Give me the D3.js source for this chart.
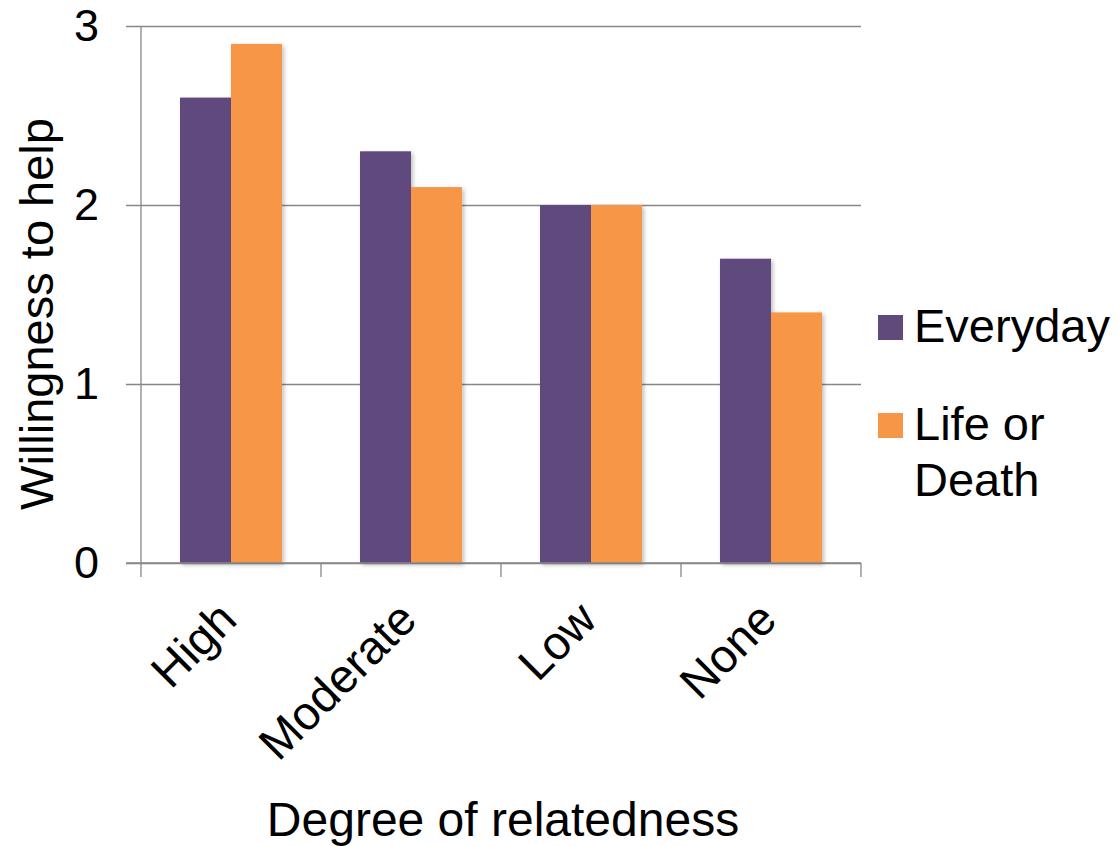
<!DOCTYPE html>
<html>
<head>
<meta charset="utf-8">
<script src="https://cdn.jsdelivr.net/npm/d3@7"></script>
<style>
  html, body { margin: 0; padding: 0; background: #fff; }
  svg { display: block; font-family: "Liberation Sans", Arial, sans-serif; }
</style>
</head>
<body>
<svg id="chart" width="1118" height="846"></svg>
<script>
// Willingness to help by degree of relatedness, two scenarios
const categories = ["High", "Moderate", "Low", "None"];
const seriesNames = ["Everyday", "Life or Death"];
const everyday = [2.6, 2.3, 2.0, 1.7];
const lifeOrDeath = [2.9, 2.1, 2.0, 1.4];
const yTicks = [0, 1, 2, 3];
const colors = ["#604A7B", "#F79646"];

const svg = d3.select("#chart");
const plot = { left: 141, right: 861, top: 26, bottom: 563 };
const gridColor = "#878787";

// drop shadow for the bars
const defs = svg.append("defs");
const f = defs.append("filter").attr("id", "shadow")
  .attr("x", "-20%").attr("y", "-20%").attr("width", "140%").attr("height", "140%");
f.append("feDropShadow").attr("dx", 2).attr("dy", 2).attr("stdDeviation", 2)
  .attr("flood-color", "#000").attr("flood-opacity", 0.25);

const y = d3.scaleLinear().domain([0, 3]).range([plot.bottom, plot.top]);
const x0 = d3.scaleBand().domain(categories)
  .range([plot.left, plot.right])
  .paddingInner(0.4333).paddingOuter(0.21667);
const x1 = d3.scaleBand().domain(seriesNames).range([0, x0.bandwidth()]);

// horizontal gridlines, extended left past the axis as tick marks
const gy = svg.append("g").attr("transform", `translate(${plot.right},0)`);
gy.call(d3.axisLeft(y).tickValues(yTicks).tickSize(plot.right - plot.left + 15).tickFormat(""));
gy.select(".domain").remove();
gy.selectAll("line").attr("stroke", gridColor).attr("stroke-width", 1.3);

// y tick labels
svg.append("g").selectAll("text").data(yTicks).join("text")
  .attr("x", 99).attr("y", d => y(d)).attr("dy", "0.34em")
  .attr("text-anchor", "end").attr("font-size", 45).attr("fill", "#000")
  .text(d => d);

// bars
const data = categories.map((c, i) => ({ cat: c, vals: [everyday[i], lifeOrDeath[i]] }));
const groups = svg.append("g").selectAll("g").data(data).join("g")
  .attr("transform", d => `translate(${x0(d.cat)},0)`);
groups.selectAll("rect").data(d => d.vals.map((v, j) => ({ s: seriesNames[j], v, j })))
  .join("rect")
  .attr("x", d => x1(d.s)).attr("width", x1.bandwidth())
  .attr("y", d => y(d.v)).attr("height", d => y(0) - y(d.v))
  .attr("fill", d => colors[d.j]).attr("filter", "url(#shadow)");

// y axis line
svg.append("line").attr("x1", plot.left).attr("x2", plot.left)
  .attr("y1", plot.top).attr("y2", plot.bottom)
  .attr("stroke", gridColor).attr("stroke-width", 1.3);

// x axis with boundary tick marks
const boundaries = d3.range(categories.length + 1).map(i => plot.left + i * x0.step());
svg.append("line").attr("x1", plot.left - 15).attr("x2", plot.right)
  .attr("y1", plot.bottom).attr("y2", plot.bottom)
  .attr("stroke", gridColor).attr("stroke-width", 1.3);
svg.append("g").selectAll("line").data(boundaries).join("line")
  .attr("x1", d => d).attr("x2", d => d)
  .attr("y1", plot.bottom).attr("y2", plot.bottom + 14)
  .attr("stroke", gridColor).attr("stroke-width", 1.3);

// rotated category labels
svg.append("g").selectAll("text").data(categories).join("text")
  .attr("text-anchor", "end").attr("font-size", 47).attr("fill", "#000")
  .attr("transform", d => `translate(${x0(d) + x0.bandwidth() / 2 + 8},622) rotate(-45)`)
  .text(d => d);

// axis titles
svg.append("text").attr("x", 503).attr("y", 836).attr("text-anchor", "middle")
  .attr("font-size", 48).attr("fill", "#000").text("Degree of relatedness");
svg.append("text").attr("transform", "translate(53,314) rotate(-90)")
  .attr("text-anchor", "middle").attr("font-size", 47).attr("fill", "#000")
  .text("Willingness to help");

// legend
const legendItems = [
  { lines: ["Everyday"], color: colors[0], y: 315 },
  { lines: ["Life or", "Death"], color: colors[1], y: 413 }
];
const lg = svg.append("g");
legendItems.forEach(it => {
  lg.append("rect").attr("x", 878).attr("y", it.y).attr("width", 25).attr("height", 25)
    .attr("fill", it.color);
  const t = lg.append("text").attr("font-size", 47).attr("fill", "#000");
  it.lines.forEach((ln, k) => {
    t.append("tspan").attr("x", 914).attr("y", it.y + 27 + k * 56).text(ln);
  });
});
</script>
</body>
</html>
